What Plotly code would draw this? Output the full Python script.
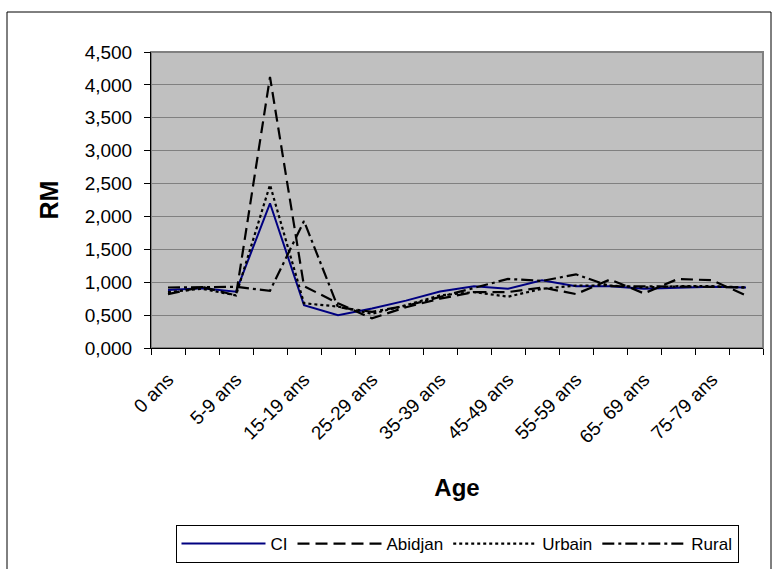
import plotly.graph_objects as go

categories = ["0 ans", "1-4 ans", "5-9 ans", "10-14 ans", "15-19 ans", "20-24 ans",
              "25-29 ans", "30-34 ans", "35-39 ans", "40-44 ans", "45-49 ans", "50-54 ans",
              "55-59 ans", "60-64 ans", "65- 69 ans", "70-74 ans", "75-79 ans", "80 ans +"]
ci      = [0.88, 0.91, 0.855, 2.20, 0.65, 0.50, 0.60, 0.72, 0.86, 0.94, 0.90, 1.03, 0.94, 0.94, 0.90, 0.92, 0.93, 0.92]
abidjan = [0.82, 0.93, 0.80, 4.12, 0.94, 0.68, 0.45, 0.62, 0.75, 0.85, 0.85, 0.92, 0.82, 1.04, 0.83, 1.05, 1.03, 0.80]
urbain  = [0.85, 0.90, 0.80, 2.48, 0.68, 0.63, 0.52, 0.65, 0.80, 0.85, 0.78, 0.90, 0.95, 0.95, 0.92, 0.94, 0.94, 0.92]
rural   = [0.92, 0.93, 0.93, 0.87, 1.93, 0.62, 0.55, 0.64, 0.78, 0.92, 1.05, 1.02, 1.12, 0.94, 0.94, 0.93, 0.93, 0.92]
y_ticks = [0, 0.5, 1, 1.5, 2, 2.5, 3, 3.5, 4, 4.5]
y_ticktext = ["0,000", "0,500", "1,000", "1,500", "2,000", "2,500", "3,000", "3,500", "4,000", "4,500"]
x_ticktext = [c if i % 2 == 0 else "" for i, c in enumerate(categories)]

FONT = "Arial, Liberation Sans, sans-serif"

fig = go.Figure()
fig.add_trace(go.Scatter(x=categories, y=ci, name="CI", mode="lines",
                         line=dict(color="#000080", width=2)))
fig.add_trace(go.Scatter(x=categories, y=abidjan, name="Abidjan", mode="lines",
                         line=dict(color="black", width=2.2, dash="12px,6px")))
fig.add_trace(go.Scatter(x=categories, y=urbain, name="Urbain", mode="lines",
                         line=dict(color="black", width=2.2, dash="3px,3px")))
fig.add_trace(go.Scatter(x=categories, y=rural, name="Rural", mode="lines",
                         line=dict(color="black", width=2.2, dash="12px,4px,3px,4px")))

L, R, T, B = 151, 14, 52, 221
W, H = 777, 569
pw, ph = W - L - R, H - T - B

def px_x(px):
    return (px - L) / pw

def px_y(py):
    return (H - B - py) / ph

# outer chart frame (bottom edge lies below the visible page)
fig.add_shape(type="rect", xref="paper", yref="paper",
              x0=px_x(7), x1=px_x(771), y0=px_y(585), y1=px_y(12),
              line=dict(color="black", width=1), fillcolor="rgba(0,0,0,0)", layer="below")

fig.update_layout(
    width=W, height=H,
    margin=dict(l=L, r=R, t=T, b=B, autoexpand=False),
    paper_bgcolor="white",
    plot_bgcolor="#C0C0C0",
    font=dict(family=FONT, size=19, color="black"),
    showlegend=True,
    legend=dict(orientation="h", x=0.5, xanchor="center", y=px_y(525), yanchor="top",
                bordercolor="black", borderwidth=1, bgcolor="white",
                font=dict(family=FONT, size=17), itemwidth=84, tracegroupgap=0),
    xaxis=dict(type="category", tickmode="array", tickvals=categories, ticktext=x_ticktext,
               tickangle=-45, tickson="boundaries", ticks="outside", ticklen=6,
               tickcolor="black", showline=True, linecolor="black", linewidth=1,
               showgrid=False, range=[-0.5, 17.5], ticklabelstandoff=12,
               title=dict(text="<b>Age</b>", font=dict(family=FONT, size=24), standoff=32),
               tickfont=dict(family=FONT, size=19)),
    yaxis=dict(range=[0, 4.5], tickmode="array", tickvals=y_ticks, ticktext=y_ticktext,
               ticks="outside", ticklen=6, tickcolor="black", showline=True,
               linecolor="black", linewidth=1, showgrid=True, gridcolor="#808080",
               gridwidth=1, zeroline=False, ticklabelstandoff=8,
               title=dict(text="<b>RM</b>", font=dict(family=FONT, size=25), standoff=18),
               tickfont=dict(family=FONT, size=19)),
)
fig.add_shape(type="rect", xref="paper", yref="paper", x0=0, x1=1, y0=0, y1=1,
              line=dict(color="#808080", width=2), layer="below")

fig.write_html("out.html")
